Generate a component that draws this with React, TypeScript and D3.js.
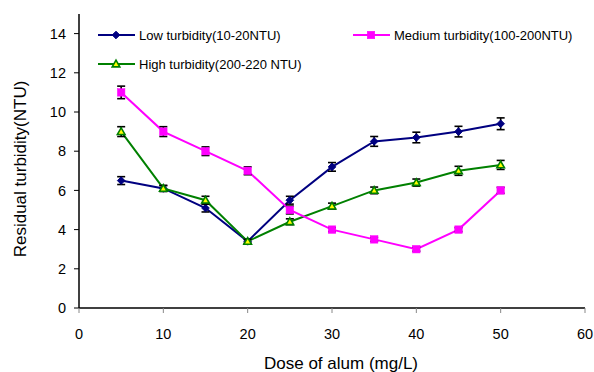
import React from "react";
import * as d3 from "d3";

const doses = [5, 10, 15, 20, 25, 30, 35, 40, 45, 50];
const lowValues = [6.5, 6.1, 5.1, 3.4, 5.5, 7.2, 8.5, 8.7, 9.0, 9.4];
const lowErrors = [0.2, 0.15, 0.2, 0.1, 0.2, 0.22, 0.25, 0.27, 0.27, 0.3];
const mediumValues = [11, 9, 8, 7, 5, 4, 3.5, 3, 4, 6];
const mediumErrors = [0.32, 0.25, 0.22, 0.2, 0.2, 0.1, 0.1, 0.1, 0.1, 0.15];
const highValues = [9, 6.1, 5.5, 3.4, 4.4, 5.2, 6.0, 6.4, 7.0, 7.3];
const highErrors = [0.25, 0.15, 0.2, 0.1, 0.15, 0.15, 0.17, 0.18, 0.23, 0.23];
const xTicks = [0, 10, 20, 30, 40, 50, 60];
const yTicks = [0, 2, 4, 6, 8, 10, 12, 14];

const seriesNames = [
  "Low turbidity(10-20NTU)",
  "Medium turbidity(100-200NTU)",
  "High turbidity(200-220 NTU)",
];

const W = 594;
const H = 372;
const left = 79;
const right = 585;
const top = 14;
const bottom = 308;

export default function App() {
  const x = d3.scaleLinear().domain([0, 60]).range([left, right]);
  const y = d3.scaleLinear().domain([0, 15]).range([bottom, top]);
  const font = "Arial, 'Liberation Sans', sans-serif";

  const series = [
    { name: seriesNames[0], values: lowValues, errors: lowErrors, color: "#000080", marker: "diamond" },
    { name: seriesNames[1], values: mediumValues, errors: mediumErrors, color: "#FF00FF", marker: "square" },
    { name: seriesNames[2], values: highValues, errors: highErrors, color: "#008000", marker: "triangle" },
  ];

  const line = d3
    .line<[number, number]>()
    .x((d) => x(d[0]))
    .y((d) => y(d[1]));

  const marker = (kind: string, cx: number, cy: number, color: string, key: string) => {
    if (kind === "diamond") {
      const r = 3.8;
      return (
        <path key={key} d={`M${cx},${cy - r}L${cx + r},${cy}L${cx},${cy + r}L${cx - r},${cy}Z`} fill={color} stroke={color} strokeWidth={1} />
      );
    }
    if (kind === "square") {
      const s = 7.5;
      return <rect key={key} x={cx - s / 2} y={cy - s / 2} width={s} height={s} fill={color} stroke={color} strokeWidth={0.5} />;
    }
    const r = 3.8;
    return (
      <path
        key={key}
        d={`M${cx},${cy - r}L${cx + r},${cy + r * 0.75}L${cx - r},${cy + r * 0.75}Z`}
        fill="#FFFF00"
        stroke={color}
        strokeWidth={1.6}
      />
    );
  };

  const drawOrder = [0, 2, 1];

  const legendItems = [
    { s: series[0], lx: 98, ly: 35 },
    { s: series[1], lx: 353, ly: 35 },
    { s: series[2], lx: 98, ly: 64 },
  ];

  return (
    <svg width={W} height={H} style={{ position: "absolute", left: 0, top: 0, background: "#fff" }} fontFamily={font}>
      <rect x={0} y={0} width={W} height={H} fill="#fff" />
      <line x1={left} x2={left} y1={top} y2={bottom} stroke="#000" strokeWidth={1.5} />
      <line x1={left} x2={right} y1={bottom} y2={bottom} stroke="#000" strokeWidth={1.5} />
      {yTicks.map((t) => (
        <g key={"yt" + t}>
          <line x1={left - 5} x2={left} y1={y(t)} y2={y(t)} stroke="#000" strokeWidth={1} />
          <text x={66} y={y(t)} dy="0.36em" textAnchor="end" fontSize={14.5} fill="#000">
            {t}
          </text>
        </g>
      ))}
      {xTicks.map((t) => (
        <g key={"xt" + t}>
          <line x1={x(t)} x2={x(t)} y1={bottom} y2={bottom + 5} stroke="#888" strokeWidth={1} />
          <text x={x(t)} y={334} dy="0.36em" textAnchor="middle" fontSize={14.5} fill="#000">
            {t}
          </text>
        </g>
      ))}
      <text x={341} y={363} dy="0.36em" textAnchor="middle" fontSize={17} fill="#000">
        Dose of alum (mg/L)
      </text>
      <text transform={`translate(20,169) rotate(-90)`} dy="0.36em" textAnchor="middle" fontSize={17} fill="#000">
        Residual turbidity(NTU)
      </text>

      {drawOrder.map((si) => {
        const s = series[si];
        const pts = doses.map((d, i) => [d, s.values[i]] as [number, number]);
        return (
          <g key={s.name}>
            <path d={line(pts) || ""} fill="none" stroke={s.color} strokeWidth={2} />
            {doses.map((d, i) => {
              const cx = x(d);
              const y1 = y(s.values[i] + s.errors[i]);
              const y2 = y(s.values[i] - s.errors[i]);
              return (
                <g key={"e" + i} stroke="#000" strokeWidth={1.6}>
                  <line x1={cx} x2={cx} y1={y1} y2={y2} />
                  <line x1={cx - 4} x2={cx + 4} y1={y1} y2={y1} />
                  <line x1={cx - 4} x2={cx + 4} y1={y2} y2={y2} />
                </g>
              );
            })}
            {doses.map((d, i) => marker(s.marker, x(d), y(s.values[i]), s.color, "m" + i))}
          </g>
        );
      })}

      {legendItems.map(({ s, lx, ly }) => (
        <g key={"lg" + s.name}>
          <line x1={lx} x2={lx + 37} y1={ly} y2={ly} stroke={s.color} strokeWidth={2} />
          {marker(s.marker, lx + 18, ly, s.color, "lm")}
          <text x={lx + 41} y={ly} dy="0.36em" fontSize={13} fill="#000">
            {s.name}
          </text>
        </g>
      ))}
    </svg>
  );
}
